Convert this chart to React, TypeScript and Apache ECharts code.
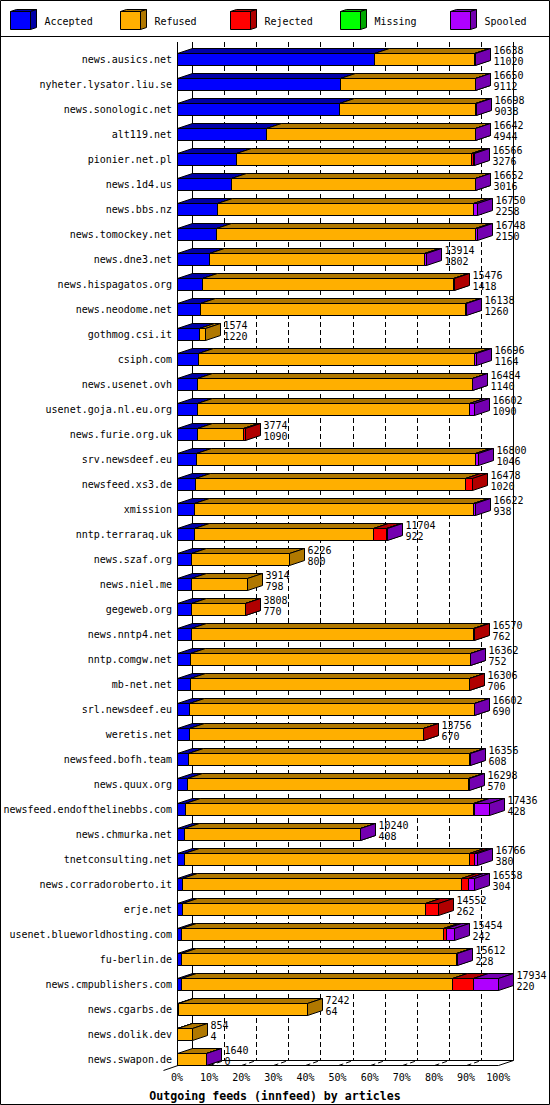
import React, { useEffect, useRef } from "react";
import * as echarts from "echarts";

const CATEGORIES = [
  "news.ausics.net", "nyheter.lysator.liu.se", "news.sonologic.net", "alt119.net",
  "pionier.net.pl", "news.1d4.us", "news.bbs.nz", "news.tomockey.net", "news.dne3.net",
  "news.hispagatos.org", "news.neodome.net", "gothmog.csi.it", "csiph.com",
  "news.usenet.ovh", "usenet.goja.nl.eu.org", "news.furie.org.uk", "srv.newsdeef.eu",
  "newsfeed.xs3.de", "xmission", "nntp.terraraq.uk", "news.szaf.org", "news.niel.me",
  "gegeweb.org", "news.nntp4.net", "nntp.comgw.net", "mb-net.net", "srl.newsdeef.eu",
  "weretis.net", "newsfeed.bofh.team", "news.quux.org", "newsfeed.endofthelinebbs.com",
  "news.chmurka.net", "tnetconsulting.net", "news.corradoroberto.it", "erje.net",
  "usenet.blueworldhosting.com", "fu-berlin.de", "news.cmpublishers.com",
  "news.cgarbs.de", "news.dolik.dev", "news.swapon.de",
];

const TOTALS = [
  16638, 16650, 16698, 16642, 16566, 16652, 16750, 16748, 13914, 15476, 16138, 1574,
  16696, 16484, 16602, 3774, 16800, 16478, 16622, 11704, 6226, 3914, 3808, 16570,
  16362, 16306, 16602, 13756, 16356, 16298, 17436, 10240, 16766, 16558, 14552, 15454,
  15612, 17934, 7242, 854, 1640,
];

const ACCEPTED = [
  11020, 9112, 9038, 4944, 3276, 3016, 2258, 2150, 1802, 1418, 1260, 1220, 1164, 1140,
  1090, 1090, 1046, 1020, 938, 922, 800, 798, 770, 762, 752, 706, 690, 670, 608, 570,
  428, 408, 380, 304, 262, 242, 228, 220, 64, 4, 0,
];

const REFUSED = [
  5588, 7508, 7580, 11668, 13147, 13606, 14292, 14478, 11972, 14018, 14848, 354, 15432,
  15309, 15232, 2614, 15574, 15048, 15584, 10008, 5426, 3116, 3008, 15778, 15580, 15570,
  15882, 13056, 15718, 15698, 16126, 9802, 15950, 15579, 13573, 14635, 15354, 15123,
  7178, 850, 1610,
];

const REJECTED = [
  0, 0, 0, 0, 112, 0, 0, 0, 0, 40, 0, 0, 0, 0, 0, 70, 0, 410, 0, 745, 0, 0, 30, 30, 0,
  30, 0, 30, 0, 0, 50, 0, 260, 391, 717, 150, 0, 1173, 0, 0, 0,
];

const MISSING = [
  0, 0, 0, 0, 0, 0, 0, 0, 0, 0, 0, 0, 0, 0, 0, 0, 0, 0, 0, 0, 0, 0, 0, 0, 0, 0, 0, 0,
  0, 0, 0, 0, 0, 0, 0, 0, 0, 0, 0, 0, 0,
];

const SPOOLED = [
  30, 30, 80, 30, 31, 30, 200, 120, 140, 0, 30, 0, 100, 35, 280, 0, 180, 0, 100, 29, 0,
  0, 0, 0, 30, 0, 30, 0, 30, 30, 832, 30, 176, 284, 0, 427, 30, 1418, 0, 0, 30,
];

const SERIES_NAMES = ["Accepted", "Refused", "Rejected", "Missing", "Spooled"];
const X_TICKS = [0, 10, 20, 30, 40, 50, 60, 70, 80, 90, 100];
const TITLE = "Outgoing feeds (innfeed) by articles";

const FRONT_COLORS = ["#0000ff", "#ffaf00", "#ff0000", "#00ff00", "#af00ff"];
const DARK_COLORS = ["#0000a8", "#b07800", "#b00000", "#00a800", "#7400b0"];

const N = CATEGORIES.length;
const MAX_TOTAL = Math.max(...TOTALS);
const DX = 15;
const DY = 5;
const BAR_H = 12;
const FONT = '"DejaVu Sans Mono", "Liberation Mono", monospace';

const crisp = (v: number) => Math.round(v) + 0.5;

function renderBar(_params: any, api: any) {
  const i = api.value(0);
  const segs = [1, 2, 3, 4, 5].map((d) => api.value(d) as number);
  const total = api.value(6);
  const acc = segs[0];
  const base = api.coord([0, i]);
  const cy = base[1];
  const top = Math.floor(cy) + 1.5;
  const children: any[] = [];
  let cum = 0;
  let xEnd = crisp(base[0]);
  segs.forEach((v, k) => {
    if (v <= 0) return;
    const x0 = crisp(api.coord([(cum * 100) / MAX_TOTAL, i])[0]);
    cum += v;
    const x1 = crisp(api.coord([(cum * 100) / MAX_TOTAL, i])[0]);
    const stroke = { stroke: "#000", lineWidth: 1 };
    children.push({
      type: "rect",
      shape: { x: x0, y: top, width: x1 - x0, height: BAR_H },
      style: { fill: FRONT_COLORS[k], ...stroke },
    });
    children.push({
      type: "polygon",
      shape: { points: [[x0, top], [x1, top], [x1 + DX, top - DY], [x0 + DX, top - DY]] },
      style: { fill: DARK_COLORS[k], ...stroke },
    });
    children.push({
      type: "polygon",
      shape: {
        points: [[x1, top], [x1 + DX, top - DY], [x1 + DX, top - DY + BAR_H], [x1, top + BAR_H]],
      },
      style: { fill: DARK_COLORS[k], ...stroke },
    });
    xEnd = x1;
  });
  children.push({
    type: "text",
    style: {
      text: `${total}\n${acc}`,
      x: xEnd + DX + 3,
      y: cy - 8,
      fill: "#000",
      fontFamily: FONT,
      fontSize: 10,
      lineHeight: 11,
      align: "left",
      verticalAlign: "top",
    },
  });
  return { type: "group", children };
}

function renderFrame(_params: any, api: any) {
  const first = api.coord([0, 0]);
  const last = api.coord([0, N - 1]);
  const band = api.size([0, 1])[1];
  const topY = first[1] - band / 2 + 2;
  const floorFront = Math.round(last[1] + band / 2) + 0.5;
  const floorBack = floorFront - DY;
  const xs = X_TICKS.map((t) => crisp(api.coord([t, 0])[0]));
  const solid = { stroke: "#000", lineWidth: 1 };
  const dashed = { stroke: "#000", lineWidth: 1, lineDash: [5, 3] };
  const children: any[] = [];
  const line = (x1: number, y1: number, x2: number, y2: number, style: any) =>
    children.push({ type: "line", shape: { x1, y1, x2, y2 }, style });

  xs.forEach((x, k) => {
    const isEdge = k === 0 || k === xs.length - 1;
    line(x + DX, topY, x + DX, floorBack, isEdge ? solid : dashed);
    if (!isEdge) line(x, floorFront, x + DX, floorBack, dashed);
  });
  line(xs[0], topY, xs[0], floorFront, solid);
  line(xs[0], floorFront, xs[xs.length - 1], floorFront, solid);
  line(xs[0] + DX, floorBack, xs[xs.length - 1] + DX, floorBack, solid);
  line(xs[xs.length - 1], floorFront, xs[xs.length - 1] + DX, floorBack, solid);
  line(xs[0] - 14, floorFront + 5, xs[0] + DX, floorBack, solid);
  return { type: "group", children };
}

function legendGraphics() {
  const items: any[] = [];
  SERIES_NAMES.forEach((name, k) => {
    const x = 10.5 + 110 * k;
    const y = 11.5;
    const w = 20;
    const h = 18;
    const s = { stroke: "#000", lineWidth: 1 };
    items.push({
      type: "rect",
      shape: { x, y, width: w, height: h },
      style: { fill: FRONT_COLORS[k], ...s },
    });
    items.push({
      type: "polygon",
      shape: { points: [[x, y], [x + 6, y - 2], [x + w + 6, y - 2], [x + w, y]] },
      style: { fill: DARK_COLORS[k], ...s },
    });
    items.push({
      type: "polygon",
      shape: { points: [[x + w, y], [x + w + 6, y - 2], [x + w + 6, y + h - 2], [x + w, y + h]] },
      style: { fill: DARK_COLORS[k], ...s },
    });
    items.push({
      type: "text",
      x: x + 34,
      y: 21,
      style: {
        text: name,
        fill: "#000",
        fontFamily: FONT,
        fontSize: 10,
        align: "left",
        verticalAlign: "middle",
      },
    });
  });
  items.push({
    type: "line",
    shape: { x1: 0, y1: 36.5, x2: 550, y2: 36.5 },
    style: { stroke: "#000", lineWidth: 1 },
  });
  items.push({
    type: "rect",
    shape: { x: 0.5, y: 0.5, width: 549, height: 1104 },
    style: { fill: "none", stroke: "#000", lineWidth: 1 },
  });
  return items;
}

export default function App() {
  const ref = useRef<HTMLDivElement>(null);
  useEffect(() => {
    document.body.style.margin = "0";
    if (!ref.current) return;
    const chart = echarts.init(ref.current, undefined, { renderer: "svg" });
    const barData = CATEGORIES.map((_c, i) => [
      i, ACCEPTED[i], REFUSED[i], REJECTED[i], MISSING[i], SPOOLED[i], TOTALS[i],
    ]);
    chart.setOption({
      animation: false,
      backgroundColor: "#ffffff",
      title: {
        text: TITLE,
        left: "center",
        top: 1085,
        textStyle: { fontFamily: FONT, fontSize: 11.6, fontWeight: "bold", color: "#000" },
      },
      grid: { left: 177, right: 51.8, top: 40, bottom: 40 },
      xAxis: {
        type: "value",
        min: 0,
        max: 100,
        interval: 10,
        axisLine: { show: false },
        axisTick: { show: false },
        splitLine: { show: false },
        axisLabel: {
          formatter: "{value}%",
          margin: 7,
          color: "#000",
          fontFamily: FONT,
          fontSize: 10,
        },
      },
      yAxis: {
        type: "category",
        data: CATEGORIES,
        inverse: true,
        axisLine: { show: false },
        axisTick: { show: false },
        splitLine: { show: false },
        axisLabel: {
          margin: 5,
          color: "#000",
          fontFamily: FONT,
          fontSize: 10,
          verticalAlign: "top",
          lineHeight: 13,
        },
      },
      graphic: legendGraphics(),
      series: [
        {
          type: "custom",
          name: "frame",
          renderItem: renderFrame,
          data: [[0, 0]],
          encode: { x: 0, y: 1 },
          clip: false,
          silent: true,
          z: 1,
        },
        {
          type: "custom",
          name: "bars",
          renderItem: renderBar,
          data: barData,
          encode: { x: 1, y: 0 },
          clip: false,
          silent: true,
          z: 2,
        },
      ],
    });
    return () => chart.dispose();
  }, []);
  return <div ref={ref} style={{ width: 550, height: 1105 }} />;
}
